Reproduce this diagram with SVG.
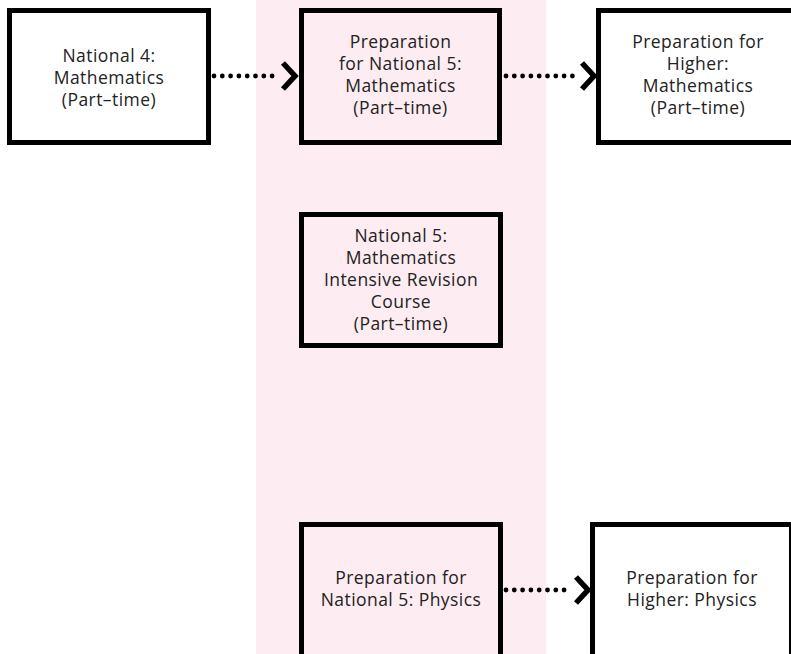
<svg xmlns="http://www.w3.org/2000/svg" width="791" height="654" viewBox="0 0 791 654">
<defs>
<style>
.box{stroke:#000;stroke-width:5;fill:#fff}
.pink{fill:#fdecf1}
.lbl{font-family:"Open Sans","Liberation Sans",sans-serif;font-size:17.5px;letter-spacing:0.45px;fill:#222;text-anchor:middle}
.dots{stroke:#000;stroke-width:4.8;stroke-linecap:round;stroke-dasharray:0 8.3;fill:none}
.head{stroke:#000;stroke-width:5.5;fill:none;stroke-linecap:butt;stroke-linejoin:miter}
</style>
</defs>
<rect width="791" height="654" fill="#fff"/>
<rect x="256" y="0" width="290" height="654" class="pink"/>

<g id="connectors">
<g id="c1"><line class="dots" x1="214" y1="76" x2="280" y2="76"/><polyline class="head" points="283,63 295,76 283,89"/></g>
<g id="c2"><line class="dots" x1="506" y1="76" x2="580" y2="76"/><polyline class="head" points="582,63 594,76 582,89"/></g>
<g id="c3"><line class="dots" x1="506" y1="590" x2="572" y2="590"/><polyline class="head" points="576,577 588,590 576,603"/></g>
</g>

<g id="n1">
<rect class="box" x="9.5" y="10.5" width="199" height="132"/>
<text class="lbl" x="109" y="62">National 4:<tspan x="109" dy="22">Mathematics</tspan><tspan x="109" dy="22">(Part–time)</tspan></text>
</g>
<g id="n2">
<rect class="box pink" x="301.5" y="10.5" width="198" height="132"/>
<text class="lbl" x="400.5" y="48">Preparation<tspan x="400.5" dy="22">for National 5:</tspan><tspan x="400.5" dy="22">Mathematics</tspan><tspan x="400.5" dy="22">(Part–time)</tspan></text>
</g>
<g id="n3">
<rect class="box" x="598.5" y="10.5" width="199" height="132"/>
<text class="lbl" x="698" y="48">Preparation for<tspan x="698" dy="22">Higher:</tspan><tspan x="698" dy="22">Mathematics</tspan><tspan x="698" dy="22">(Part–time)</tspan></text>
</g>
<g id="n4">
<rect class="box pink" x="301.5" y="214.5" width="199" height="131"/>
<text class="lbl" x="401" y="242">National 5:<tspan x="401" dy="22">Mathematics</tspan><tspan x="401" dy="22">Intensive Revision</tspan><tspan x="401" dy="22">Course</tspan><tspan x="401" dy="22">(Part–time)</tspan></text>
</g>
<g id="n5">
<rect class="box pink" x="301.5" y="524.5" width="199" height="150"/>
<text class="lbl" x="401" y="584">Preparation for<tspan x="401" dy="22">National 5: Physics</tspan></text>
</g>
<g id="n6">
<rect class="box" x="592.5" y="524.5" width="199" height="150"/>
<text class="lbl" x="692" y="584">Preparation for<tspan x="692" dy="22">Higher: Physics</tspan></text>
</g>
</svg>
